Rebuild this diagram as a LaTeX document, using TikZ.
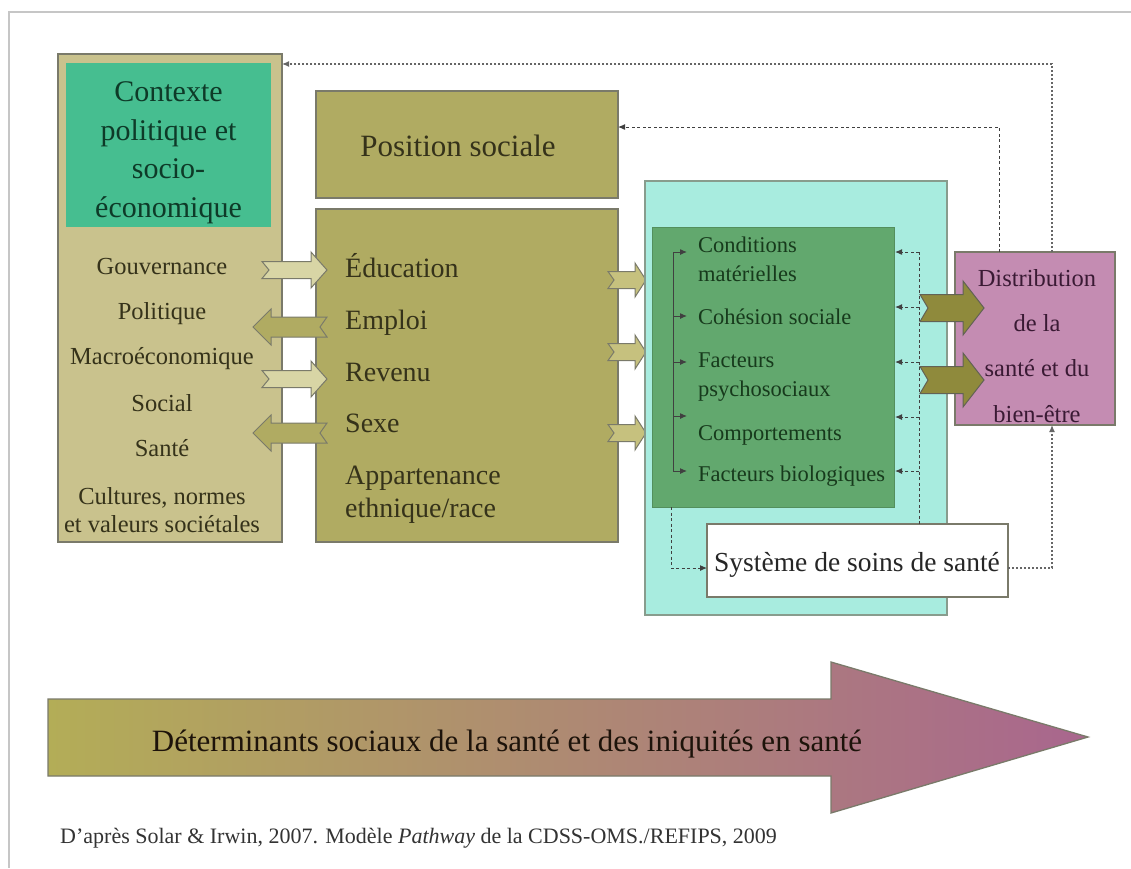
\documentclass[tikz,border=0pt]{standalone}
\usepackage{fontspec}
\setmainfont{Liberation Serif}
\usetikzlibrary{arrows.meta,calc}
\definecolor{cTan}{HTML}{C9C28D}
\definecolor{cCtx}{HTML}{46BE90}
\definecolor{cOlive}{HTML}{B0AB62}
\definecolor{cLightOl}{HTML}{D8D5A5}
\definecolor{cMidOl}{HTML}{C6C17E}
\definecolor{cDarkOl}{HTML}{8F8A3C}
\definecolor{cTeal}{HTML}{A8ECDF}
\definecolor{cInGreen}{HTML}{62A86E}
\definecolor{cMauve}{HTML}{C48CB2}
\definecolor{cBord}{HTML}{7A7A6A}
\definecolor{cLine}{HTML}{404040}
\definecolor{cGradL}{HTML}{B3AD57}
\definecolor{cGradM}{HTML}{B99A70}
\definecolor{cGradR}{HTML}{A9668E}
\definecolor{tOl}{HTML}{35321A}
\definecolor{tGr}{HTML}{173A1C}
\definecolor{tCtx}{HTML}{0E3A28}
\definecolor{tMv}{HTML}{3A1A34}
\newcommand{\blockR}[8]{%
 \path[#1] (#2,#4-#5) -- (#3-#7,#4-#5) -- (#3-#7,#4-#6) -- (#3,#4) -- (#3-#7,#4+#6) -- (#3-#7,#4+#5) -- (#2,#4+#5) -- (#2+#8,#4) -- cycle;}
\tikzset{
 boxshape/.style={rectangle, inner sep=0pt, draw=cBord, line width=1.3pt},
 txt/.style={inner sep=0pt, text height=21pt, text depth=2pt},
 txts/.style={inner sep=0pt, text height=18pt, text depth=2pt},
 dsh/.style={draw=cLine, line width=1pt, dash pattern=on 3pt off 2.5pt},
 dtt/.style={draw=cLine!80, line width=1.2pt, dash pattern=on 2pt off 2pt},
 tip/.style={-{Latex[length=7pt,width=6pt]}},
 solidarr/.style={draw=cLine, line width=1pt, -{Latex[length=7pt,width=6pt]}},
 arrL/.style={fill=cLightOl, draw=cBord, line width=1pt},
 arrO/.style={fill=cOlive, draw=cBord, line width=1pt},
 arrM/.style={fill=cMidOl, draw=cBord, line width=1pt},
 arrD/.style={fill=cDarkOl, draw=cBord!80!black, line width=1pt},
}
\begin{document}
\begin{tikzpicture}[x=1pt,y=-1pt]
\useasboundingbox (0,0) rectangle (1131,868);
\fill[white] (0,0) rectangle (1131,868);
% frame
\draw[gray!45, line width=2pt] (1131,12) -- (9,12) -- (9,868);

% left context box
\node[boxshape, fill=cTan, minimum width=224pt, minimum height=488pt] (ctx) at (170,298) {};
\node[rectangle, inner sep=0pt, fill=cCtx, minimum width=205pt, minimum height=164pt] (ctxg) at (168.5,145) {};
\node[align=center, inner sep=0pt, text=tCtx, font=\fontsize{30}{38.5}\selectfont] (ctxt) at (168.5,153) {Contexte\\politique et\\socio-\\économique};
\begin{scope}[every node/.style={txt, text=tOl, font=\fontsize{24.5}{28}\selectfont}]
\node (l1) at (162,265) {Gouvernance};
\node (l2) at (162,310) {Politique};
\node (l3) at (162,355) {Macroéconomique};
\node (l4) at (162,402) {Social};
\node (l5) at (162,447) {Santé};
\node (l6) at (162,495) {Cultures, normes};
\node (l7) at (162,523) {et valeurs sociétales};
\end{scope}

% position sociale
\node[boxshape, fill=cOlive, minimum width=302pt, minimum height=107pt] (pos) at (467,144.5) {};
\node[txt, text=tOl, font=\fontsize{31}{36}\selectfont] (post) at (458,147) {Position sociale};

% middle box
\node[boxshape, fill=cOlive, minimum width=302pt, minimum height=333pt] (mid) at (467,375.5) {};
\begin{scope}[every node/.style={txt, anchor=west, text=tOl, font=\fontsize{28}{33}\selectfont}]
\node (m1) at (345,268) {Éducation};
\node (m2) at (345,320) {Emploi};
\node (m3) at (345,372) {Revenu};
\node (m4) at (345,423) {Sexe};
\node (m5) at (345,475) {Appartenance};
\node (m6) at (345,508) {ethnique/race};
\end{scope}

% arrows between left and middle
\blockR{arrL}{262}{327}{270}{8.5}{18}{16}{7}
\blockR{arrO}{327}{253}{327}{10}{18}{-18}{-7}
\blockR{arrL}{262}{327}{379}{8.5}{18}{16}{7}
\blockR{arrO}{327}{253}{433}{10}{18}{-18}{-7}

% arrows middle -> teal
\blockR{arrM}{608}{646}{280}{8.5}{17}{11}{6}
\blockR{arrM}{608}{646}{352}{8.5}{17}{11}{6}
\blockR{arrM}{608}{646}{433}{8.5}{17}{11}{6}

% teal box
\node[rectangle, inner sep=0pt, draw=cBord!70!cTeal, line width=1.3pt, fill=cTeal, minimum width=302pt, minimum height=434pt] (teal) at (796,398) {};
\node[rectangle, inner sep=0pt, draw=cInGreen!85!black, line width=0.8pt, fill=cInGreen, minimum width=242pt, minimum height=280pt] (ing) at (773,367) {};
\begin{scope}[every node/.style={txts, anchor=west, text=tGr, font=\fontsize{22.5}{29}\selectfont}]
\node (i1) at (698,244) {Conditions};
\node (i1b) at (698,273) {matérielles};
\node (i2) at (698,316) {Cohésion sociale};
\node (i3) at (698,359) {Facteurs};
\node (i3b) at (698,388) {psychosociaux};
\node (i4) at (698,432) {Comportements};
\node (i5) at (698,473) {Facteurs biologiques};
\end{scope}

% système box
\node[boxshape, fill=white, minimum width=301pt, minimum height=73pt] (sys) at (857.5,560.5) {};
\node[txt, text=black!85, font=\fontsize{27.5}{33}\selectfont] (syst) at (857,562) {Système de soins de santé};

% distribution box
\node[boxshape, fill=cMauve, minimum width=160pt, minimum height=173pt] (dist) at (1035,338.5) {};
\begin{scope}[every node/.style={txt, text=tMv, font=\fontsize{24.5}{30}\selectfont}]
\node (d1) at (1037,277) {Distribution};
\node (d2) at (1037,322) {de la};
\node (d3) at (1037,367) {santé et du};
\node (d4) at (1037,413) {bien-être};
\end{scope}

% bracket inside green box
\coordinate (bt) at (673,252);
\coordinate (bb) at (673,471);
\draw[cLine, line width=1pt] (bt) -- (bb);
\foreach \yy/\nm in {252/a,316/b,362/c,416/d,471/e}{
  \coordinate (bs\nm) at (673,\yy);
  \coordinate (be\nm) at (687,\yy);
  \draw[solidarr] (bs\nm) -- (be\nm);
}

% dashed from système to items
\coordinate (sv) at (919,524);
\coordinate (svt) at (919,252);
\draw[dsh] (sv) -- (svt);
\foreach \yy/\nm in {252/a,307/b,362/c,417/d,471/e}{
  \coordinate (ss\nm) at (919,\yy);
  \coordinate (se\nm) at (895,\yy);
  \draw[dsh, tip] (ss\nm) -- (se\nm);
}
% dashed from green box to système
\coordinate (gb) at (671,507);
\coordinate (sl) at (707,568);
\draw[dsh, tip] (gb) |- (sl);
% système to distribution
\coordinate (sr) at (1008,568);
\coordinate (db) at (1052,425);
\draw[dtt, tip] (sr) -| (db);
% feedback to position sociale
\coordinate (dt1) at (999,252);
\coordinate (pe) at (618,127);
\draw[dsh, tip] (dt1) |- (pe);
% feedback to context
\coordinate (dt2) at (1052,252);
\coordinate (ce) at (282,64);
\draw[dtt, tip] (dt2) |- (ce);

% distribution arrows
\blockR{arrD}{920}{984}{308}{13.5}{27}{21}{8}
\blockR{arrD}{920}{984}{380}{13.5}{27}{21}{8}

% bottom gradient arrow
\shade[left color=cGradL, middle color=cGradM, right color=cGradR]
  (48,699) -- (831,699) -- (831,662) -- (1088,737) -- (831,813) -- (831,776) -- (48,776) -- cycle;
\draw[cBord, line width=1.3pt]
  (48,699) -- (831,699) -- (831,662) -- (1088,737) -- (831,813) -- (831,776) -- (48,776) -- cycle;
\node[txt, text=black!85!brown, font=\fontsize{31}{36}\selectfont] (bott) at (507,742) {Déterminants sociaux de la santé et des iniquités en santé};

% citation
\node[txts, anchor=west, text=black!80, font=\fontsize{22}{26}\selectfont] (cit) at (60,835) {D’après Solar \& Irwin, 2007. Modèle \textit{Pathway} de la CDSS-OMS./REFIPS, 2009};
\end{tikzpicture}
\end{document}
